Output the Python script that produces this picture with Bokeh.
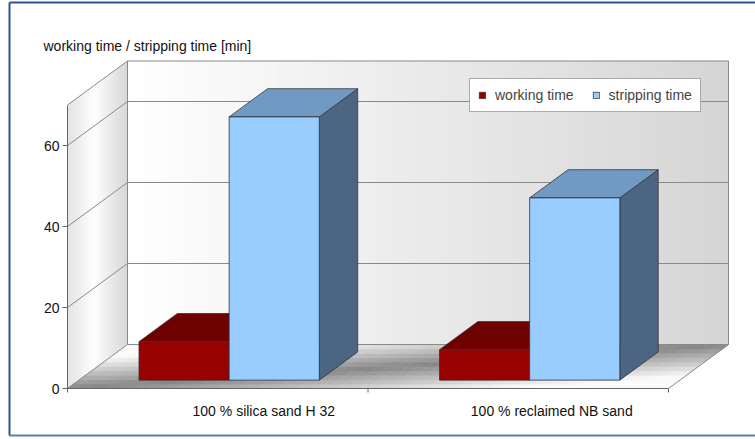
import numpy as np
from bokeh.plotting import figure
from bokeh.models import Range1d, FixedTicker, Label, Legend, LegendItem
from bokeh.embed import file_html
from bokeh.resources import INLINE
from bokeh.core.properties import value

# ---------------- data ----------------
categories = ["100 % silica sand H 32", "100 % reclaimed NB sand"]
series_names = ["working time", "stripping time"]
working_time = [9.5, 7.5]
stripping_time = [65, 45]
y_ticks = [0, 20, 40, 60]
y_axis_max = 70
y_title = "working time / stripping time [min]"

# ---------------- geometry (pixels) ----------------
W, H = 755, 439
FL, FR = 67, 668          # front plane left / right edge
Y0, YTOP = 388, 104.5     # pixel row of 0 and of y_axis_max on the front plane
DX_PX, DY_PX = 60, 44     # depth vector of the 3-D box
FONT = "Liberation Sans"
FS = "14px"

ncat = len(categories)
sx = (FR - FL) / ncat
sy = (Y0 - YTOP) / y_axis_max
ddx = DX_PX / sx
ddy = DY_PX / sy


def px_x(px):
    return (px - FL) / sx


def px_y(py):
    return (Y0 - py) / sy


def gray(l):
    l = int(max(0, min(255, round(l))))
    return "#%02x%02x%02x" % (l, l, l)


p = figure(width=W, height=H, output_backend="svg", toolbar_location=None,
           x_range=Range1d(px_x(0), px_x(W)), y_range=Range1d(px_y(H), px_y(0)),
           x_axis_location=None, y_axis_location="left",
           min_border_left=0, min_border_right=0, min_border_top=0, min_border_bottom=0)
p.xgrid.visible = False
p.ygrid.visible = False
p.outline_line_color = None
p.background_fill_color = "white"
p.border_fill_color = "white"

# ---------------- walls ----------------
N = 60
XW = ncat
# back wall
xs, ys, cs = [], [], []
for k in range(N):
    u0, u1 = k / N, (k + 1) / N
    xs.append([ddx + u0 * XW, ddx + u1 * XW, ddx + u1 * XW, ddx + u0 * XW])
    ys.append([ddy, ddy, y_axis_max + ddy, y_axis_max + ddy])
    cs.append(gray(255 - 42 * (u0 + u1) / 2))
p.patches(xs, ys, fill_color=cs, line_color=cs, line_width=0.6)

# left wall
xs, ys, cs = [], [], []
M = 30
for k in range(M):
    t0, t1 = k / M, (k + 1) / M
    tm = (t0 + t1) / 2
    lvl = 226 + 28 * tm / 0.45 if tm < 0.45 else 254 - 40 * (tm - 0.45) / 0.55
    xs.append([t0 * ddx, t1 * ddx, t1 * ddx, t0 * ddx])
    ys.append([t0 * ddy, t1 * ddy, y_axis_max + t1 * ddy, y_axis_max + t0 * ddy])
    cs.append(gray(lvl))
p.patches(xs, ys, fill_color=cs, line_color=cs, line_width=0.6)

# floor
xs, ys, cs = [], [], []
NU, NV = 60, 10
for a in range(NU):
    for b in range(NV):
        u0, u1 = a / NU, (a + 1) / NU
        v0, v1 = b / NV, (b + 1) / NV
        um, vm = (u0 + u1) / 2, (v0 + v1) / 2
        d = min(1.0, abs(um - vm) * 1.4)
        cs.append(gray(135 + 115 * d))
        xs.append([u0 * XW + v0 * ddx, u1 * XW + v0 * ddx, u1 * XW + v1 * ddx, u0 * XW + v1 * ddx])
        ys.append([v0 * ddy, v0 * ddy, v1 * ddy, v1 * ddy])
p.patches(xs, ys, fill_color=cs, line_color=cs, line_width=0.6)

# grid lines + box edges
GRID = "#8a8a8a"
gx0, gy0, gx1, gy1 = [], [], [], []
for t in y_ticks + [y_axis_max]:
    gx0 += [0, ddx]; gy0 += [t, t + ddy]
    gx1 += [ddx, ddx + XW]; gy1 += [t + ddy, t + ddy]
gx0 += [ddx, ddx + XW, XW]; gy0 += [ddy, ddy, 0]
gx1 += [ddx, ddx + XW, XW + ddx]; gy1 += [y_axis_max + ddy, y_axis_max + ddy, ddy]
p.segment(gx0, gy0, gx1, gy1, line_color=GRID, line_width=1)
# floor front edge + category ticks
p.segment([0], [0], [XW], [0], line_color="#666666", line_width=1)
tk = list(range(ncat + 1))
p.segment(tk, [0] * len(tk), tk, [-4 / sy] * len(tk), line_color="#666666", line_width=1)

# ---------------- bars ----------------
BAR_W = 0.3
F0, F1 = 0.19, 0.83
series = [working_time, stripping_time]
offsets = [-BAR_W, 0.0]
front_colors = ["#990000", "#99ccff"]
top_colors = ["#6e0000", "#7099c4"]
side_colors = ["#4d0000", "#4b6582"]
EDGE = "#333333"
legend_items = []
for s, vals in enumerate(series):
    x0 = [i + 0.5 + offsets[s] for i in range(ncat)]
    x1 = [x + BAR_W for x in x0]
    sxs, sys_, txs, tys = [], [], [], []
    for i, h in enumerate(vals):
        a0, a1 = F0 * ddx, F1 * ddx
        b0, b1 = F0 * ddy, F1 * ddy
        sxs.append([x1[i] + a0, x1[i] + a1, x1[i] + a1, x1[i] + a0])
        sys_.append([b0, b1, h + b1, h + b0])
        txs.append([x0[i] + a0, x1[i] + a0, x1[i] + a1, x0[i] + a1])
        tys.append([h + b0, h + b0, h + b1, h + b1])
    p.patches(sxs, sys_, fill_color=side_colors[s], line_color=EDGE, line_width=0.8)
    p.patches(txs, tys, fill_color=top_colors[s], line_color=EDGE, line_width=0.8)
    r = p.quad(left=[x + F0 * ddx for x in x0], right=[x + F0 * ddx for x in x1],
               bottom=[F0 * ddy] * ncat, top=[h + F0 * ddy for h in vals],
               fill_color=front_colors[s], line_color=EDGE, line_width=0.8)
    legend_items.append(LegendItem(label=series_names[s], renderers=[r]))

# ---------------- category labels ----------------
LABEL_DX0 = 46 / sx       # shift of the first label from its category centre
LABEL_STEP = 288 / sx     # spacing between label centres
p.text(x=[0.5 + LABEL_DX0 + i * LABEL_STEP for i in range(ncat)], y=[px_y(410)] * ncat,
       text=categories, text_align="center", text_baseline="middle", text_font=value(FONT),
       text_font_size=FS, text_color="#111111")

# ---------------- y axis (drawn at the front plane) ----------------
ax = p.yaxis[0]
ax.fixed_location = 0
ax.ticker = FixedTicker(ticks=y_ticks)
ax.bounds = (0, y_axis_max)
ax.axis_line_color = "#666666"
ax.major_tick_line_color = "#666666"
ax.major_tick_out = 5
ax.major_tick_in = 0
ax.minor_tick_line_color = None
ax.major_label_standoff = 3
ax.major_label_text_font = FONT
ax.major_label_text_font_size = FS
ax.major_label_text_color = "#111111"

# ---------------- title ----------------
p.add_layout(Label(x=px_x(43), y=px_y(45), text=y_title, text_font=FONT, text_font_size=FS,
                   text_baseline="middle", text_align="left", text_color="#111111"))

# ---------------- outer frame (blue) ----------------
bl, bt, bb, br = px_x(9), px_y(2), px_y(435), px_x(W + 5)
p.segment([bl, bl], [bb, bt], [bl, br], [bt, bt], line_color="#2f548d", line_width=2)
p.segment([bl], [bb], [br], [bb], line_color="#5a7fb2", line_width=2)

# ---------------- legend ----------------
leg = Legend(items=legend_items, orientation="horizontal", location=(469, H - 112),
             glyph_width=8, glyph_height=8, label_height=14, padding=8, spacing=18,
             label_standoff=9, label_text_font=FONT, label_text_font_size=FS,
             label_text_baseline="middle", border_line_color="#555555", border_line_width=1,
             background_fill_color="white", background_fill_alpha=1, margin=0)
p.add_layout(leg)

open("out.html", "w").write(file_html(p, INLINE))
